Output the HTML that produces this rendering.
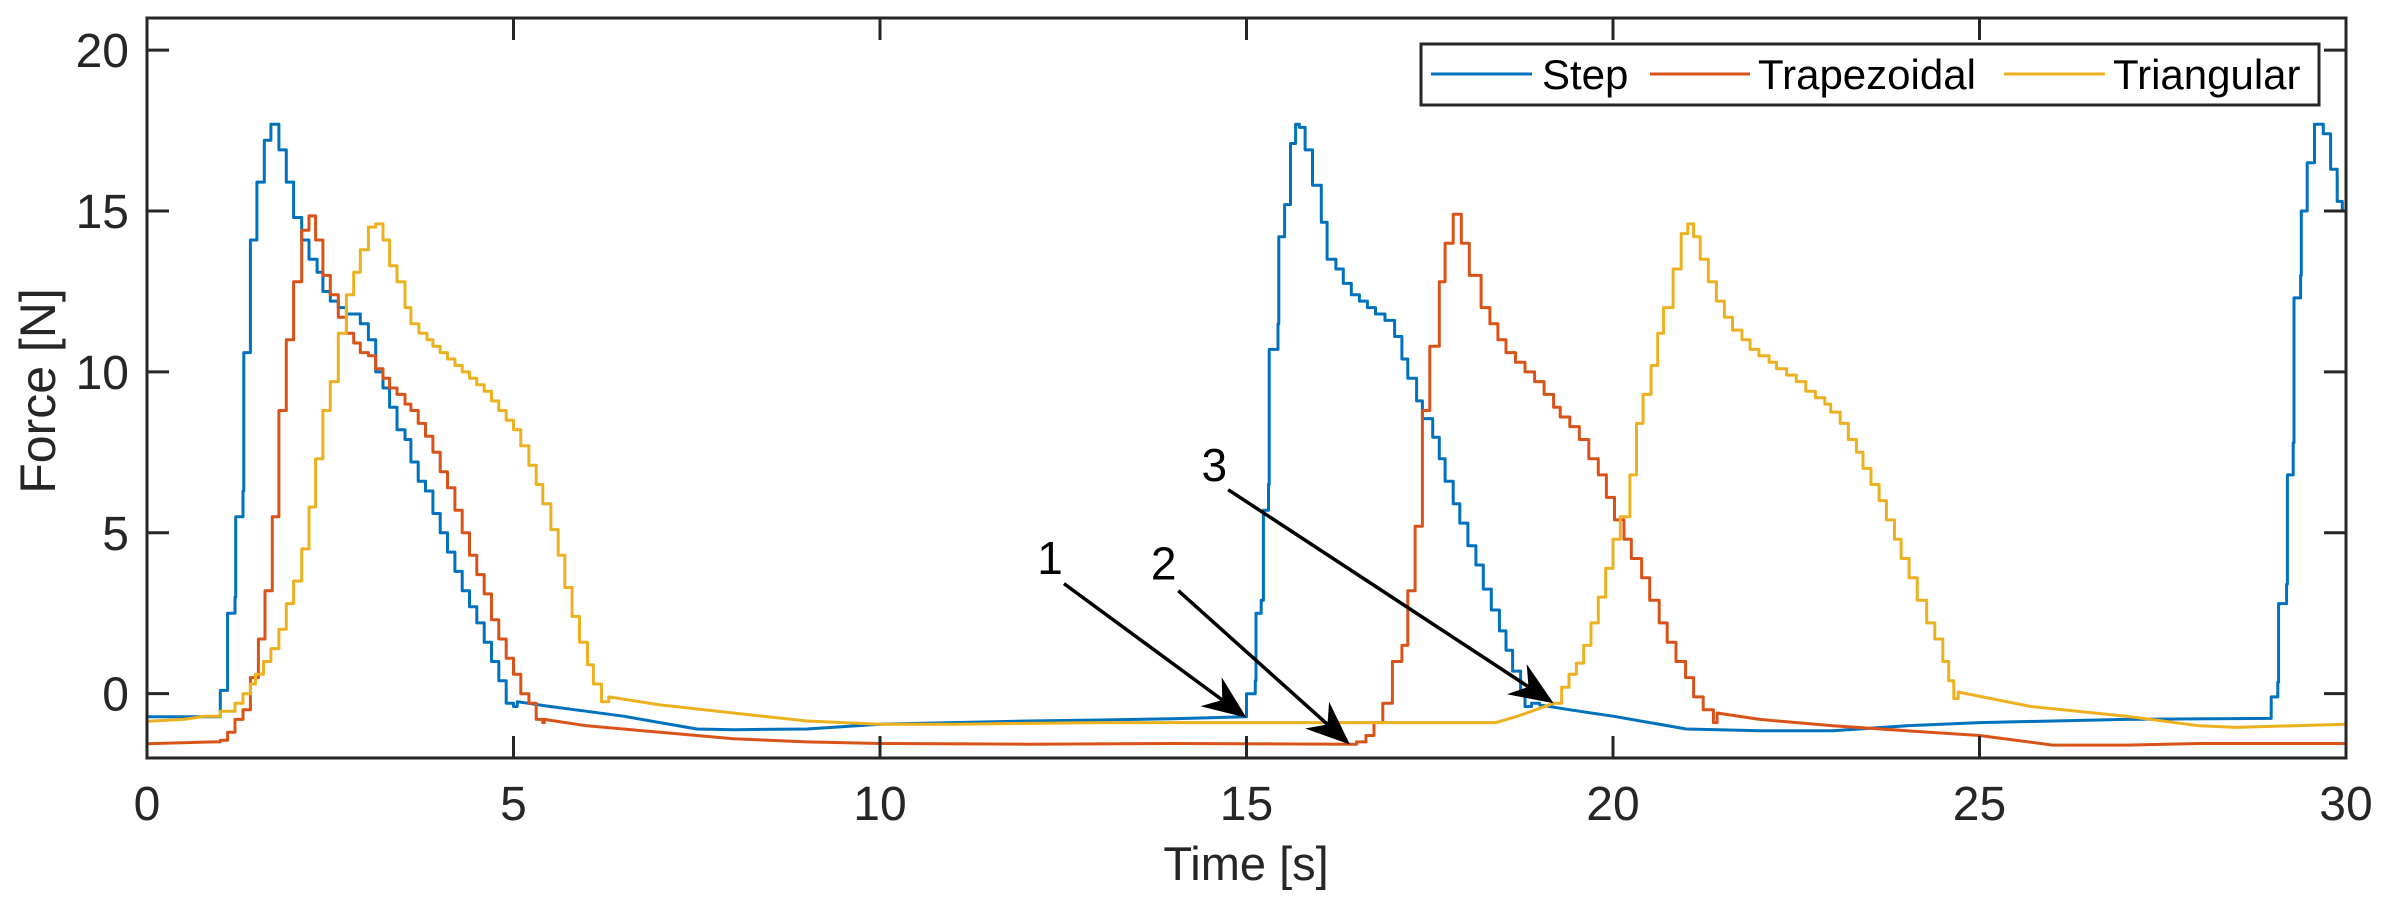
<!DOCTYPE html>
<html><head><meta charset="utf-8"><style>
html,body{margin:0;padding:0;background:#fff;}
svg{display:block;font-family:"Liberation Sans",Arial,sans-serif;}
</style></head><body>
<svg id="chart" width="2390" height="906" viewBox="0 0 2390 906" xmlns="http://www.w3.org/2000/svg">
<defs><clipPath id="plotclip"><rect x="147" y="18" width="2199" height="740"/></clipPath></defs>
<rect x="0" y="0" width="2390" height="906" fill="#fff"/>
<g id="series" clip-path="url(#plotclip)"></g>
<g id="annot"></g>
<g id="axes"></g>
<text x="1246" y="880" font-size="47" fill="#262626" text-anchor="middle">Time [s]</text>
<text transform="translate(55,391) rotate(-90)" font-size="50" fill="#262626" text-anchor="middle">Force [N]</text>
<g id="legend">
<rect x="1421" y="44" width="898" height="61" fill="#fff" stroke="#262626" stroke-width="3"/>
<line x1="1431" y1="74" x2="1532" y2="74" stroke="#0072BD" stroke-width="3"/>
<text x="1542" y="89" font-size="42" fill="#000">Step</text>
<line x1="1650" y1="74" x2="1750" y2="74" stroke="#D95319" stroke-width="3"/>
<text x="1758" y="89" font-size="42" fill="#000">Trapezoidal</text>
<line x1="2004" y1="74" x2="2105" y2="74" stroke="#EDB120" stroke-width="3"/>
<text x="2113" y="89" font-size="42" fill="#000">Triangular</text>
</g>
</svg>
<script>
const xTicks = [0, 5, 10, 15, 20, 25, 30];
const yTicks = [0, 5, 10, 15, 20];
const xTickLabels = ["0", "5", "10", "15", "20", "25", "30"];
const yTickLabels = ["0", "5", "10", "15", "20"];

const stepT = [0,0.99,1.0,1.1,1.2,1.21,1.31,1.32,1.41,1.5,1.6,1.69,1.8,1.9,2.0,2.11,2.21,2.32,2.4,2.5,2.61,2.72,2.91,3.02,3.12,3.22,3.31,3.41,3.52,3.6,3.7,3.8,3.9,4.0,4.1,4.2,4.3,4.4,4.5,4.6,4.7,4.8,4.9,5.0,5.05,5.5,6,6.5,7,7.5,8,9,10,11,12,13,14,14.99,15.0,15.12,15.13,15.2,15.23,15.3,15.31,15.43,15.44,15.52,15.6,15.67,15.72,15.8,15.9,16.02,16.1,16.22,16.32,16.43,16.54,16.65,16.76,16.89,17.02,17.12,17.2,17.32,17.4,17.54,17.63,17.71,17.82,17.91,18.02,18.13,18.23,18.34,18.45,18.54,18.63,18.74,18.8,18.89,19.0,19.4,20,20.5,21,22,23,24,25,26,27,28.97,28.98,29.07,29.08,29.19,29.2,29.28,29.29,29.38,29.39,29.47,29.57,29.69,29.79,29.88,29.95,30];
const stepV = [-0.72,-0.72,0.1,2.5,3.0,5.5,6.3,10.6,14.1,15.9,17.2,17.7,16.9,15.9,14.8,14.1,13.5,13.1,12.5,12.2,12.0,11.8,11.5,11.0,10.0,9.5,8.9,8.2,7.9,7.2,6.6,6.3,5.6,5.0,4.4,3.8,3.2,2.7,2.2,1.6,1.0,0.4,-0.3,-0.4,-0.25,-0.4,-0.55,-0.7,-0.9,-1.1,-1.12,-1.1,-0.95,-0.9,-0.85,-0.82,-0.78,-0.72,0.0,0.4,2.5,2.9,5.7,6.5,10.7,11.5,14.2,15.2,17.1,17.7,17.6,16.9,15.8,14.65,13.5,13.2,12.75,12.4,12.2,12.0,11.8,11.6,11.1,10.4,9.8,9.1,8.55,7.97,7.3,6.6,5.9,5.3,4.6,4.0,3.25,2.6,1.95,1.35,0.7,0.0,-0.4,-0.3,-0.35,-0.5,-0.7,-0.9,-1.1,-1.15,-1.15,-1.0,-0.9,-0.85,-0.8,-0.77,-0.1,0.36,2.8,3.4,6.8,7.8,12.3,13.0,15.0,16.5,17.7,17.4,16.3,15.3,15.0,14.4];

const trapT = [0,0.9,1.0,1.1,1.2,1.31,1.41,1.52,1.61,1.71,1.8,1.9,2.0,2.11,2.21,2.3,2.4,2.5,2.61,2.72,2.82,2.91,3.02,3.12,3.22,3.31,3.41,3.52,3.6,3.7,3.8,3.9,4.0,4.1,4.2,4.3,4.4,4.5,4.6,4.7,4.8,4.9,5.0,5.1,5.21,5.31,5.4,5.42,6,7,8,9,10,12,14,16.45,16.5,16.63,16.74,16.86,16.99,17.12,17.2,17.3,17.4,17.5,17.63,17.71,17.82,17.93,18.04,18.2,18.32,18.43,18.54,18.67,18.8,18.93,19.06,19.19,19.28,19.41,19.54,19.67,19.8,19.91,20.02,20.15,20.25,20.39,20.5,20.63,20.74,20.86,20.99,21.1,21.23,21.37,21.42,22,23,24,25,26,27,28,30];
const trapV = [-1.56,-1.5,-1.45,-1.2,-0.8,-0.5,0.5,1.7,3.2,5.5,8.8,11.0,12.8,14.4,14.85,14.1,13.0,12.4,11.7,11.2,10.9,10.6,10.5,10.1,9.8,9.5,9.3,9.0,8.8,8.4,8.0,7.5,6.9,6.4,5.7,5.0,4.3,3.7,3.1,2.3,1.7,1.1,0.6,0.0,-0.3,-0.8,-0.9,-0.8,-1.0,-1.2,-1.4,-1.5,-1.55,-1.57,-1.55,-1.57,-1.5,-1.3,-0.9,-0.3,1.0,1.5,3.2,5.2,8.8,10.8,12.8,14.0,14.9,14.0,13.0,12.0,11.5,11.0,10.6,10.3,10.0,9.7,9.3,8.9,8.6,8.3,7.9,7.3,6.8,6.1,5.4,4.8,4.2,3.6,2.9,2.2,1.6,1.0,0.5,-0.1,-0.5,-0.9,-0.6,-0.8,-1.0,-1.15,-1.3,-1.6,-1.6,-1.55,-1.55];

const triT = [0,0.5,0.8,1.0,1.2,1.31,1.41,1.48,1.59,1.69,1.8,1.9,2.0,2.11,2.21,2.3,2.4,2.5,2.61,2.72,2.82,2.91,3.02,3.12,3.22,3.31,3.41,3.52,3.6,3.71,3.82,3.9,4.0,4.1,4.2,4.3,4.4,4.5,4.6,4.7,4.8,4.9,5.0,5.1,5.21,5.31,5.4,5.51,5.61,5.7,5.8,5.9,6.01,6.09,6.2,6.3,7,8,9,10,11,13,16,18.4,18.7,18.95,19.19,19.3,19.4,19.5,19.6,19.7,19.8,19.9,20.0,20.1,20.23,20.32,20.41,20.52,20.61,20.69,20.82,20.93,21.02,21.1,21.19,21.3,21.41,21.52,21.63,21.76,21.87,21.99,22.13,22.23,22.37,22.5,22.63,22.76,22.89,22.97,23.1,23.21,23.32,23.41,23.52,23.63,23.73,23.84,23.93,24.04,24.15,24.28,24.39,24.5,24.58,24.65,24.71,25.7,27,28,28.5,30];
const triV = [-0.86,-0.8,-0.7,-0.55,-0.3,0.0,0.3,0.6,1.0,1.4,2.0,2.8,3.5,4.5,5.8,7.3,8.8,9.7,11.2,12.4,13.1,13.8,14.5,14.6,14.1,13.3,12.8,12.0,11.5,11.2,11.0,10.8,10.6,10.4,10.2,10.0,9.8,9.6,9.4,9.1,8.8,8.5,8.2,7.7,7.1,6.5,5.9,5.1,4.3,3.3,2.4,1.6,0.9,0.3,-0.25,-0.1,-0.35,-0.6,-0.85,-0.95,-0.95,-0.9,-0.9,-0.9,-0.7,-0.5,-0.3,0.2,0.6,0.95,1.5,2.2,3.0,3.9,4.8,5.5,6.8,8.4,9.3,10.2,11.2,12.0,13.2,14.3,14.6,14.2,13.5,12.8,12.2,11.7,11.3,11.0,10.7,10.5,10.3,10.1,9.9,9.7,9.4,9.2,9.0,8.75,8.4,7.9,7.5,7.0,6.5,6.0,5.4,4.8,4.2,3.6,2.9,2.2,1.7,1.0,0.4,-0.15,0.05,-0.4,-0.7,-1.0,-1.05,-0.95];

const arrowTails = [[12.51, 3.42], [14.07, 3.2], [14.75, 6.34]];
const arrowTips = [[15.0, -0.75], [16.41, -1.58], [19.19, -0.3]];
const arrowLabelPos = [[12.32, 4.22], [13.87, 4.04], [14.56, 7.11]];
const arrowLabels = ["1", "2", "3"];

const X0 = 147, X1 = 2346, Y0 = 18, Y1 = 758;
const xMin = 0, xMax = 30, yMin = -2, yMax = 21;
function sx(t){ return X0 + (t - xMin) / (xMax - xMin) * (X1 - X0); }
function sy(v){ return Y1 - (v - yMin) / (yMax - yMin) * (Y1 - Y0); }
const NS = "http://www.w3.org/2000/svg";

function buildPath(T, V){
  let d = "M" + sx(T[0]).toFixed(1) + "," + sy(V[0]).toFixed(1);
  for (let i = 1; i < T.length; i++){
    const dt = T[i] - T[i-1];
    if (dt < 0.2){
      d += " L" + sx(T[i]).toFixed(1) + "," + sy(V[i-1]).toFixed(1);
    }
    d += " L" + sx(T[i]).toFixed(1) + "," + sy(V[i]).toFixed(1);
  }
  return d;
}
const sg = document.getElementById("series");
function addSeries(T, V, color, name){
  const p = document.createElementNS(NS, "path");
  p.setAttribute("d", buildPath(T, V));
  p.setAttribute("fill", "none");
  p.setAttribute("stroke", color);
  p.setAttribute("stroke-width", "3");
  p.setAttribute("stroke-linejoin", "round");
  
  
  sg.appendChild(p);
}
addSeries(stepT, stepV, "#0072BD", "step-line");
addSeries(trapT, trapV, "#D95319", "trapezoidal-line");
addSeries(triT, triV, "#EDB120", "triangular-line");

const ag = document.getElementById("annot");
for (let i = 0; i < arrowTips.length; i++){
  const x1 = sx(arrowTails[i][0]), y1 = sy(arrowTails[i][1]);
  const x2 = sx(arrowTips[i][0]), y2 = sy(arrowTips[i][1]);
  const ang = Math.atan2(y2 - y1, x2 - x1);
  const L = 44, W = 18, back = 30;
  const ln = document.createElementNS(NS, "line");
  ln.setAttribute("x1", x1); ln.setAttribute("y1", y1);
  ln.setAttribute("x2", x2 - Math.cos(ang) * back); ln.setAttribute("y2", y2 - Math.sin(ang) * back);
  ln.setAttribute("stroke", "#000"); ln.setAttribute("stroke-width", "3.5");
  
  
  ag.appendChild(ln);
  const bx = x2 - Math.cos(ang) * L, by = y2 - Math.sin(ang) * L;
  const cx = x2 - Math.cos(ang) * back, cy = y2 - Math.sin(ang) * back;
  const px = -Math.sin(ang), py = Math.cos(ang);
  const pts = [[x2, y2], [bx + px * W, by + py * W], [cx, cy], [bx - px * W, by - py * W]];
  const head = document.createElementNS(NS, "polygon");
  head.setAttribute("points", pts.map(p => p[0].toFixed(1) + "," + p[1].toFixed(1)).join(" "));
  head.setAttribute("fill", "#000");
  
  
  ag.appendChild(head);
  const tx = document.createElementNS(NS, "text");
  tx.setAttribute("x", sx(arrowLabelPos[i][0]));
  tx.setAttribute("y", sy(arrowLabelPos[i][1]) + 16);
  tx.setAttribute("font-size", "46");
  tx.setAttribute("text-anchor", "middle");
  tx.setAttribute("fill", "#000");
  tx.textContent = arrowLabels[i];
  
  
  ag.appendChild(tx);
}

const ax = document.getElementById("axes");
const box = document.createElementNS(NS, "rect");
box.setAttribute("x", X0); box.setAttribute("y", Y0);
box.setAttribute("width", X1 - X0); box.setAttribute("height", Y1 - Y0);
box.setAttribute("fill", "none"); box.setAttribute("stroke", "#262626"); box.setAttribute("stroke-width", "3");


ax.appendChild(box);
const TL = 22;
xTicks.forEach((t, i) => {
  const x = sx(t);
  [[Y1, Y1 - TL], [Y0, Y0 + TL]].forEach(s => {
    const l = document.createElementNS(NS, "line");
    l.setAttribute("x1", x); l.setAttribute("x2", x);
    l.setAttribute("y1", s[0]); l.setAttribute("y2", s[1]);
    l.setAttribute("stroke", "#262626"); l.setAttribute("stroke-width", "3");
    
    
    ax.appendChild(l);
  });
  const tx = document.createElementNS(NS, "text");
  tx.setAttribute("x", x); tx.setAttribute("y", Y1 + 62);
  tx.setAttribute("font-size", "48"); tx.setAttribute("fill", "#262626");
  tx.setAttribute("text-anchor", "middle");
  tx.textContent = xTickLabels[i];
  
  
  ax.appendChild(tx);
});
yTicks.forEach((v, i) => {
  const y = sy(v);
  [[X0, X0 + TL], [X1, X1 - TL]].forEach(s => {
    const l = document.createElementNS(NS, "line");
    l.setAttribute("y1", y); l.setAttribute("y2", y);
    l.setAttribute("x1", s[0]); l.setAttribute("x2", s[1]);
    l.setAttribute("stroke", "#262626"); l.setAttribute("stroke-width", "3");
    
    
    ax.appendChild(l);
  });
  const tx = document.createElementNS(NS, "text");
  tx.setAttribute("x", X0 - 18); tx.setAttribute("y", y + 17);
  tx.setAttribute("font-size", "48"); tx.setAttribute("fill", "#262626");
  tx.setAttribute("text-anchor", "end");
  tx.textContent = yTickLabels[i];
  
  
  ax.appendChild(tx);
});
</script>
</body></html>
